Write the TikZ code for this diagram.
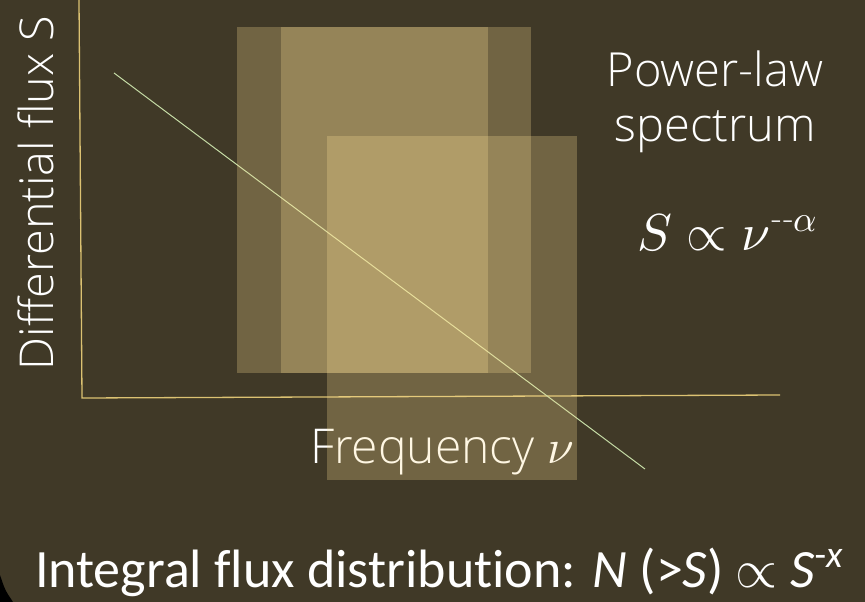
\documentclass[tikz,border=0pt]{standalone}
\usepackage{fontspec}
\usepackage{unicode-math}
\IfFontExistsTF{Open Sans Light}{\setmainfont{Open Sans Light}}{\setmainfont{Open Sans}}
\setmathfont{latinmodern-math.otf}
\newfontfamily\carl[Ligatures={NoCommon}]{Carlito}
\definecolor{bg}{HTML}{403927}
\definecolor{axis}{HTML}{DCC272}
\definecolor{slope}{HTML}{C5DBA5}
\definecolor{veil}{RGB}{255,225,150}
\tikzset{
  px/.style={x=1pt,y=-1pt},
  veilbox/.style={fill=veil,fill opacity=0.26,draw=none},
  lbl/.style={text=white,inner sep=0pt,outer sep=0pt},
  axisline/.style={draw=axis,line width=1.3pt},
  slopeline/.style={draw=slope,line width=1pt},
}
\begin{document}
\begin{tikzpicture}[px]
\useasboundingbox (0,0) rectangle (865,602);
\fill[bg] (0,0) rectangle (865,602);
\fill[black] (0,575) .. controls (5,590) .. (13,602) -- (0,602) -- cycle;
% axes
\coordinate (ytop) at (79,0);
\coordinate (orig) at (82,398);
\coordinate (xend) at (780,395);
\draw[axisline] (ytop) -- (orig) -- (xend);
% power-law line
\coordinate (l1) at (114,73);
\coordinate (l2) at (645,469);
\draw[slopeline] (l1) -- (l2);
% labels
\node[lbl,rotate=90,anchor=base west,font=\fontsize{46.7}{56}\selectfont] (ylab) at (53,370) {Differential flux S};
\node[lbl,anchor=base,font=\fontsize{47}{56}\selectfont] (pl) at (715,87) {Power-law};
\node[lbl,anchor=base,font=\fontsize{47}{56}\selectfont] (sp) at (715,141) {spectrum};
\node[lbl,anchor=base west,font=\fontsize{52}{60}\selectfont] (eq) at (637,250) {$S\propto\nu^{\textnormal{-{}-}\alpha}$};
\node[lbl,anchor=base west,font=\fontsize{48}{58}\selectfont] (fr) at (310,463) {Frequency $\nu$};
\node[lbl,anchor=base west,font=\carl\fontsize{54}{62}\selectfont] (bt) at (35,587) {Integral flux distribution: \textit{N}~(>\textit{S})~$\propto$~\textit{S}\textsuperscript{-\textit{x}}};
% translucent boxes
\fill[veilbox] (237,27) rectangle (488,373);
\fill[veilbox] (281,27) rectangle (531,373);
\fill[veilbox] (327,136) rectangle (577,480);
\end{tikzpicture}
\end{document}
